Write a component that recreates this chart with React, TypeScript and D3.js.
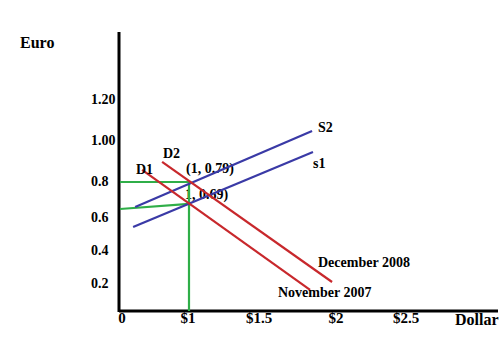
import React from "react";
import * as d3 from "d3";

// x: dollar price, y: euro price (hand-drawn, non-uniform axis spacing)
const xTickValues = [0, 1, 1.5, 2, 2.5];
const xTickLabels = ["0", "$1", "$1.5", "$2", "$2.5"];
const yTickValues = [0.2, 0.4, 0.6, 0.8, 1.0, 1.2];
const yTickLabels = ["0.2", "0.4", "0.6", "0.8", "1.00", "1.20"];

// curves: [x, y] endpoints
const supplyS1 = [[0.19, 0.545], [1.844, 0.946]];
const supplyS2 = [[0.22, 0.661], [1.838, 1.049]];
const demandD1 = [[0.32, 0.859], [1.825, 0.156]];
const demandD2 = [[0.61, 0.898], [1.968, 0.212]];
const guideUpper = [[0, 0.8], [1, 0.8], [1, 0]];
const guideLower = [[0, 0.65], [1, 0.678]];

const pointLabels = ["(1, 0.79)", "1, 0.69)"];

export default function App() {
  const W = 504, H = 361;
  const x = d3.scaleLinear().domain([0, 1, 1.5, 2, 2.5, 3]).range([120, 189, 260, 337, 407, 477]);
  const y = d3.scaleLinear().domain([0, 0.2, 0.4, 0.6, 0.8, 1.0, 1.2, 1.6]).range([311, 284, 251, 218, 182, 141, 100, 32]);
  const line = d3.line<number[]>().x((d) => x(d[0])).y((d) => y(d[1]));

  const font = "'Liberation Serif', 'Times New Roman', serif";
  const blue = "#3a3aa6";
  const red = "#c8282c";
  const green = "#2fae48";

  return (
    <svg width={W} height={H} style={{ position: "absolute", left: 0, top: 0, background: "#fff" }}
      fontFamily={font} fontWeight="bold">
      {/* axes */}
      <line x1={x(0) - 1} x2={x(0) - 1} y1={y(1.6)} y2={y(0) + 1} stroke="#000" strokeWidth={3} />
      <line x1={x(0) - 1} x2={498} y1={y(0)} y2={y(0)} stroke="#000" strokeWidth={3} />

      {/* y labels */}
      <text x={20} y={48} fontSize={16}>Euro</text>
      {yTickValues.map((v, i) => (
        <text key={i} x={91} y={y(v) + 4} fontSize={14}>{yTickLabels[i]}</text>
      ))}
      {/* x labels */}
      {xTickValues.map((v, i) => (
        <text key={i} x={x(v) + (i === 0 ? 2 : -1)} y={323} fontSize={15} textAnchor="middle">{xTickLabels[i]}</text>
      ))}
      <text x={455} y={325} fontSize={16}>Dollar</text>

      {/* point labels (under lines) */}
      <text x={186} y={173} fontSize={14}>{pointLabels[0]}</text>
      <text x={185} y={199} fontSize={14}>{pointLabels[1]}</text>

      {/* guides */}
      <path d={line(guideUpper as any) || ""} fill="none" stroke={green} strokeWidth={2.2} />
      <path d={line(guideLower as any) || ""} fill="none" stroke={green} strokeWidth={2.2} />

      {/* curves */}
      <path d={line(supplyS2 as any) || ""} fill="none" stroke={blue} strokeWidth={2.2} />
      <path d={line(supplyS1 as any) || ""} fill="none" stroke={blue} strokeWidth={2.2} />
      <path d={line(demandD1 as any) || ""} fill="none" stroke={red} strokeWidth={2.2} />
      <path d={line(demandD2 as any) || ""} fill="none" stroke={red} strokeWidth={2.2} />

      {/* curve labels */}
      <text x={136} y={174} fontSize={14}>D1</text>
      <text x={163} y={158} fontSize={14}>D2</text>
      <text x={318} y={132} fontSize={14}>S2</text>
      <text x={313} y={168} fontSize={14}>s1</text>
      <text x={318} y={267} fontSize={14}>December 2008</text>
      <text x={278} y={297} fontSize={14}>November 2007</text>
    </svg>
  );
}
